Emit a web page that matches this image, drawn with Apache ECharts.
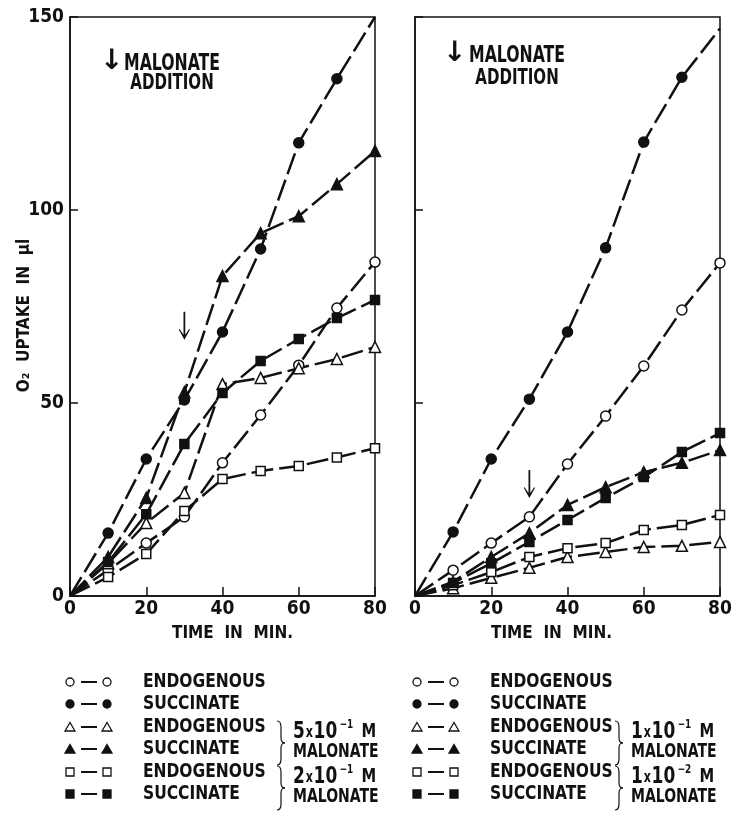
<!DOCTYPE html>
<html><head><meta charset="utf-8">
<script src="https://cdn.jsdelivr.net/npm/echarts@6/dist/echarts.min.js"></script>
<style>html,body{margin:0;padding:0;background:#fff}#c{width:739px;height:819px}</style>
</head><body><div id="c"></div>
<script>
// ---- data ----
const times = [0, 10, 20, 30, 40, 50, 60, 70, 80];
// left panel
const L_endo      = [0, 6.7, 13.7, 20.5, 34.5, 46.9, 59.8, 74.6, 86.5];
const L_succ      = [0, 16.3, 35.5, 50.8, 68.4, 89.9, 117.4, 134, 150];
const L_endoMal5  = [0, 8.5, 18.9, 26.7, 54.9, 56.5, 59, 61.4, 64.5];
const L_succMal5  = [0, 10.1, 25.4, 52.8, 82.9, 94, 98.4, 106.7, 115.3];
const L_endoMal2  = [0, 4.9, 10.9, 22, 30.3, 32.4, 33.7, 35.9, 38.3];
const L_succMal2  = [0, 8.8, 21.2, 39.4, 52.6, 60.9, 66.6, 72, 76.7];
// right panel
const R_endo      = [0, 6.7, 13.7, 20.5, 34.2, 46.6, 59.6, 74.1, 86.3];
const R_succ      = [0, 16.6, 35.5, 51, 68.4, 90.2, 117.6, 134.4, 147];
const R_endoMal1  = [0, 2, 4.7, 7.3, 10.1, 11.4, 12.7, 13, 14];
const R_succMal1  = [0, 3.7, 10.1, 16.3, 23.6, 28.2, 32.1, 34.5, 37.8];
const R_endoMal01 = [0, 2.8, 6.2, 10.1, 12.4, 13.7, 17.1, 18.4, 21];
const R_succMal01 = [0, 3.4, 8.5, 14, 19.7, 25.4, 30.8, 37.3, 42.2];
// malonate addition arrows [time, y]
const arrowLeft  = [30, 70];
const arrowRight = [30, 29];
const xTicks = [0, 20, 40, 60, 80];
const yTicks = [0, 50, 100, 150];

// ---- font detection ----
function hasFont(f) {
  const c = document.createElement('canvas').getContext('2d');
  const s = 'ENDOGENOUS 0123456789';
  c.font = 'bold 40px monospace'; const a = c.measureText(s).width;
  c.font = `bold 40px '${f}', monospace`; const b = c.measureText(s).width;
  return Math.abs(a - b) > 0.5;
}
const candidates = ['Liberation Sans Narrow','DejaVu Sans Condensed','Roboto Condensed','Roboto'];
const chosen = candidates.find(hasFont) || 'Liberation Sans';
const FONT = `'${chosen}', sans-serif`;

const INK = '#111';
const MARK = {
  circleOpen:  {symbol:'circle', size:10, fill:'#fff'},
  circleFill:  {symbol:'circle', size:10, fill:INK},
  triOpen:     {symbol:'triangle', size:11, fill:'#fff'},
  triFill:     {symbol:'triangle', size:11, fill:INK},
  rectOpen:    {symbol:'rect', size:9, fill:'#fff'},
  rectFill:    {symbol:'rect', size:9, fill:INK}
};

function mk(name, vals, grid, mark, unmarkedLast) {
  const data = vals.map((v, i) => {
    const item = {value:[times[i], v]};
    if (i === 0 || (unmarkedLast && i === vals.length - 1)) item.symbol = 'none';
    return item;
  });
  return {
    name, type:'line', xAxisIndex:grid, yAxisIndex:grid, data,
    symbol: MARK[mark].symbol, symbolSize: MARK[mark].size,
    itemStyle:{color:MARK[mark].fill, borderColor:INK, borderWidth:1.5},
    lineStyle:{color:INK, width:2.5, type:[22,6]},
    emphasis:{disabled:true}, z:3
  };
}
const ARROW_PATH = 'path://M4.2,0 L5.8,0 L5.8,23 L9.5,17 L10,18 L5,28 L0,18 L0.5,17 L4.2,23 Z';
function arrowSeries(grid, pt) {
  return {
    type:'scatter', xAxisIndex:grid, yAxisIndex:grid, data:[pt],
    symbol:ARROW_PATH, symbolSize:[11, 28], symbolKeepAspect:false,
    itemStyle:{color:INK, opacity:1}, silent:true, emphasis:{disabled:true}, z:4
  };
}

const series = [
  mk('endo', L_endo, 0, 'circleOpen'),
  mk('succ', L_succ, 0, 'circleFill', true),
  mk('endoMal5', L_endoMal5, 0, 'triOpen'),
  mk('succMal5', L_succMal5, 0, 'triFill'),
  mk('endoMal2', L_endoMal2, 0, 'rectOpen'),
  mk('succMal2', L_succMal2, 0, 'rectFill'),
  mk('endo', R_endo, 1, 'circleOpen'),
  mk('succ', R_succ, 1, 'circleFill', true),
  mk('endoMal1', R_endoMal1, 1, 'triOpen'),
  mk('succMal1', R_succMal1, 1, 'triFill'),
  mk('endoMal01', R_endoMal01, 1, 'rectOpen'),
  mk('succMal01', R_succMal01, 1, 'rectFill'),
  arrowSeries(0, arrowLeft),
  arrowSeries(1, arrowRight)
];

const axisText = {fontFamily:FONT, fontWeight:'bold', fontSize:19, color:INK};
function xAx(grid, pad) {
  return {
    gridIndex:grid, type:'value', min:xTicks[0], max:xTicks[xTicks.length-1], interval:20,
    axisLine:{show:true, lineStyle:{color:INK, width:1.5}},
    axisTick:{show:true, inside:true, length:9, lineStyle:{color:INK, width:1.5}},
    splitLine:{show:false},
    axisLabel:Object.assign({margin:4}, axisText),
    name:'TIME  IN  MIN.', nameLocation:'middle', nameGap:29, nameMoveOverlap:false,
    nameTextStyle:{fontFamily:FONT, fontWeight:'bold', fontSize:17, color:INK, padding:pad}
  };
}
function yAx(grid, labels) {
  const ax = {
    gridIndex:grid, type:'value', min:yTicks[0], max:yTicks[yTicks.length-1], interval:50,
    axisLine:{show:true, lineStyle:{color:INK, width:1.5}},
    axisTick:{show:true, inside:true, length:8, lineStyle:{color:INK, width:1.5}},
    splitLine:{show:false},
    axisLabel:Object.assign({show:labels, margin:6}, axisText)
  };
  if (labels) {
    ax.name = 'O₂  UPTAKE  IN  μl';
    ax.nameLocation = 'middle';
    ax.nameGap = 37;
    ax.nameRotate = 90;
    ax.nameMoveOverlap = false;
    ax.nameTextStyle = {fontFamily:FONT, fontWeight:'bold', fontSize:17, color:INK, padding:[0,0,0,-18]};
  }
  return ax;
}

// ---- legend graphics ----
const legRows = [682, 704, 727, 749, 772, 794];
const legMarks = ['circleOpen','circleFill','triOpen','triFill','rectOpen','rectFill'];
const legNames = ['ENDOGENOUS','SUCCINATE','ENDOGENOUS','SUCCINATE','ENDOGENOUS','SUCCINATE'];
function legSym(kind, x, y) {
  const fill = MARK[kind].fill;
  const st = {fill, stroke:INK, lineWidth:1.3};
  if (kind.startsWith('circle')) return {type:'circle', shape:{cx:x, cy:y, r:4}, style:st};
  if (kind.startsWith('tri')) return {type:'polygon', shape:{points:[[x,y-4.5],[x+5,y+4],[x-5,y+4]]}, style:st};
  return {type:'rect', shape:{x:x-4, y:y-4, width:8, height:8}, style:st};
}
const bStyle = {fill:'none', stroke:INK, lineWidth:1.2};
function brace(x, yTop, h) {
  const m = yTop + h/2, yB = yTop + h;
  return [
    {type:'bezierCurve', shape:{x1:x, y1:yTop, cpx1:x+4, cpy1:yTop, x2:x+4, y2:yTop+6}, style:bStyle},
    {type:'line', shape:{x1:x+4, y1:yTop+6, x2:x+4, y2:m-5}, style:bStyle},
    {type:'bezierCurve', shape:{x1:x+4, y1:m-5, cpx1:x+4, cpy1:m, x2:x+8, y2:m}, style:bStyle},
    {type:'bezierCurve', shape:{x1:x+8, y1:m, cpx1:x+4, cpy1:m, x2:x+4, y2:m+5}, style:bStyle},
    {type:'line', shape:{x1:x+4, y1:m+5, x2:x+4, y2:yB-6}, style:bStyle},
    {type:'bezierCurve', shape:{x1:x+4, y1:yB-6, cpx1:x+4, cpy1:yB, x2:x, y2:yB}, style:bStyle}
  ];
}
const legText = {fontFamily:FONT, fontWeight:'bold', fontSize:20, fill:INK};
const graphics = [];
function txt(x, y, text, sx, style) {
  return {type:'text', x, y, scaleX:sx, style:Object.assign({text, verticalAlign:'middle'}, style || legText)};
}
function legendBlock(x0, textX, braceX, concX, concs) {
  legRows.forEach((y, i) => {
    graphics.push(legSym(legMarks[i], x0, y));
    graphics.push({type:'line', shape:{x1:x0+11, y1:y, x2:x0+27, y2:y}, style:{stroke:INK, lineWidth:2}});
    graphics.push(legSym(legMarks[i], x0+37, y));
    graphics.push(txt(textX, y, legNames[i], 0.86));
  });
  concs.forEach((c, k) => {
    const yA = legRows[2 + 2*k], yB = legRows[3 + 2*k];
    brace(braceX, yA - 6, 44).forEach(g => graphics.push(g));
    graphics.push({type:'text', x:concX, y:yA + 5, scaleX:0.82, style:{
      text:`{n|${c[0]}}{x|x}{n|${c[1]}}{s|${c[2]}}{m|M}`, verticalAlign:'middle',
      rich:{
        n:{fontFamily:FONT, fontWeight:'bold', fontSize:23, fill:INK},
        x:{fontFamily:FONT, fontWeight:'bold', fontSize:15, fill:INK, padding:[3,1,0,1]},
        s:{fontFamily:FONT, fontWeight:'bold', fontSize:12, fill:INK, verticalAlign:'top', padding:[0,10,14,3]},
        m:{fontFamily:FONT, fontWeight:'bold', fontSize:20, fill:INK}
      }
    }});
    graphics.push(txt(concX, yB + 3, 'MALONATE', 0.82, {fontFamily:FONT, fontWeight:'bold', fontSize:19, fill:INK}));
  });
}
legendBlock(70, 143, 277, 293, [['5','10','−1'], ['2','10','−1']]);
legendBlock(417, 490, 615, 631, [['1','10','−1'], ['1','10','−2']]);

// top annotations
function note(ax, tx, y1, y2) {
  graphics.push({type:'text', x:ax, y:y1 - 16, style:{text:'↓', fontFamily:'DejaVu Sans', fontWeight:'bold', fontSize:28, fill:INK}});
  graphics.push(txt(tx, y1, 'MALONATE', 0.76, {fontFamily:FONT, fontWeight:'bold', fontSize:23, fill:INK, align:'center'}));
  graphics.push(txt(tx, y2, 'ADDITION', 0.76, {fontFamily:FONT, fontWeight:'bold', fontSize:22, fill:INK, align:'center'}));
}
note(100, 172, 64, 83);
note(443, 517, 56, 78);

const chart = echarts.init(document.getElementById('c'), null, {renderer:'canvas'});
chart.setOption({
  animation:false,
  backgroundColor:'#fff',
  grid:[
    {left:70, top:17, width:305, height:579, show:true, borderColor:INK, borderWidth:1.5, backgroundColor:'transparent'},
    {left:415, top:17, width:305, height:579, show:true, borderColor:INK, borderWidth:1.5, backgroundColor:'transparent'}
  ],
  xAxis:[xAx(0, [0,0,0,20]), xAx(1, [0,32,0,0])],
  yAxis:[yAx(0, true), yAx(1, false)],
  series,
  graphic:graphics
});
</script></body></html>
